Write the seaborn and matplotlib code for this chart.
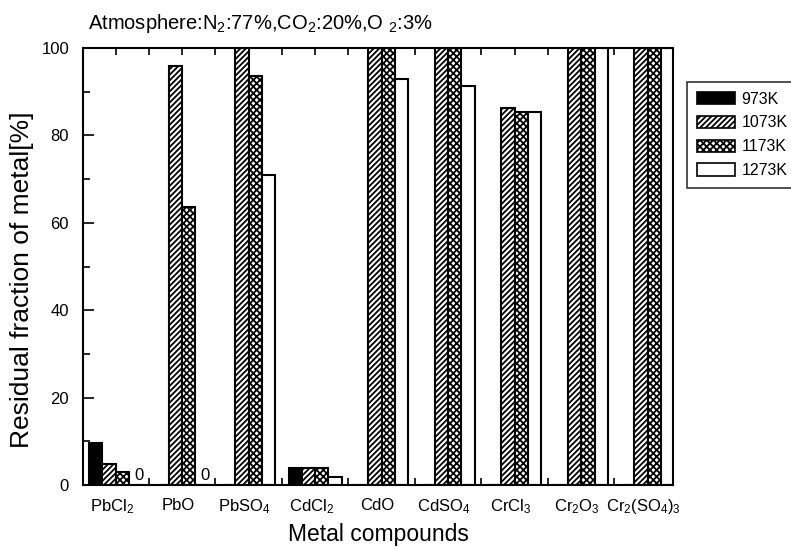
import matplotlib
matplotlib.use("Agg")
import matplotlib.pyplot as plt
from matplotlib.patches import Patch
from matplotlib.ticker import MultipleLocator, FixedLocator
from matplotlib.transforms import ScaledTranslation
import seaborn as sns
import pandas as pd

compounds = ["PbCl$_2$", "PbO", "PbSO$_4$", "CdCl$_2$", "CdO", "CdSO$_4$",
             "CrCl$_3$", "Cr$_2$O$_3$", "Cr$_2$(SO$_4$)$_3$"]
temps = ["973K", "1073K", "1173K", "1273K"]
v973 = [9.6, 0, 0, 4.0, 0, 0, 0, 0, 0]
v1073 = [4.8, 95.9, 100, 4.0, 100, 100, 86.3, 100, 100]
v1173 = [3.0, 63.6, 93.5, 4.0, 100, 100, 85.4, 100, 100]
v1273 = [0, 0, 71.0, 1.9, 93.0, 91.2, 85.4, 100, 100]
zero_labels = [(0, 3), (1, 3)]  # (compound index, temp index) annotated "0"

rows = []
for t, vals in zip(temps, [v973, v1073, v1173, v1273]):
    for c, v in zip(compounds, vals):
        rows.append({"Compound": c, "Temp": t, "Value": v})
df = pd.DataFrame(rows)

sns.set_theme(style="ticks")
plt.rcParams["font.family"] = ["Liberation Sans", "DejaVu Sans"]
plt.rcParams["mathtext.fontset"] = "custom"
plt.rcParams["mathtext.rm"] = "Liberation Sans"
plt.rcParams["mathtext.default"] = "regular"
plt.rcParams["hatch.linewidth"] = 1.3
plt.rcParams["hatch.color"] = "black"
for k in ["text.color", "axes.labelcolor", "xtick.color", "ytick.color",
          "xtick.labelcolor", "ytick.labelcolor"]:
    plt.rcParams[k] = "black"

fig = plt.figure(figsize=(7.91, 5.49), dpi=100)
ax = fig.add_axes([83 / 791, 1 - 485 / 549, 590 / 791, 437 / 549])

sns.barplot(data=df, x="Compound", y="Value", hue="Temp", order=compounds,
            hue_order=temps, width=0.80, gap=0, edgecolor="black",
            linewidth=1.5, legend=False, ax=ax, errorbar=None)

fills = ["black", "white", "white", "white"]
hatches = [None, "//////", "xxxxx", None]
for cont, fc, h in zip(ax.containers, fills, hatches):
    for p in cont:
        p.set_facecolor(fc)
        p.set_edgecolor("black")
        if h:
            p.set_hatch(h)

for ci, ti in zero_labels:
    p = ax.containers[ti][ci]
    ax.text(p.get_x() + p.get_width() / 2 + 0.05, 0.4, "0", ha="center",
            va="bottom", fontsize=12, color="black")

ax.set_xlim(-0.49, 8.38)
ax.set_ylim(0, 100)
ax.yaxis.set_major_locator(MultipleLocator(20))
ax.yaxis.set_minor_locator(MultipleLocator(10))
ax.xaxis.set_minor_locator(FixedLocator([i + 0.5 for i in range(-1, 9)]))
ax.tick_params(axis="both", which="both", direction="in", top=True, right=True,
               width=1.2, color="black", labelcolor="black")
ax.tick_params(axis="y", which="major", length=8, labelsize=12, pad=10)
ax.tick_params(axis="y", which="minor", length=5)
ax.tick_params(axis="x", which="major", length=5, labelsize=12, pad=9)
ax.tick_params(axis="x", which="minor", length=5)
for lab in ax.get_xticklabels():
    lab.set_transform(lab.get_transform() +
                      ScaledTranslation(-4 / 100, 0, fig.dpi_scale_trans))
for s in ax.spines.values():
    s.set_linewidth(1.5)
    s.set_color("black")

ax.set_xlabel("Metal compounds", fontsize=16.5, labelpad=5, color="black")
ax.set_ylabel("Residual fraction of metal[%]", fontsize=19, color="black")
ax.yaxis.set_label_coords(-0.083, 0.469)
ax.set_title("Atmosphere:N$_2$:77%,CO$_2$:20%,O $_2$:3%", fontsize=14.5,
             loc="left", x=0.008, pad=14, color="black")

handles = [Patch(facecolor=fc, edgecolor="black", hatch=h, linewidth=1.2)
           for fc, h in zip(fills, hatches)]
leg = ax.legend(handles, temps, loc="upper left", bbox_to_anchor=(1.0237, 0.922),
                frameon=True, fancybox=False, edgecolor="black", fontsize=11.5,
                handlelength=2.4, handleheight=0.8, borderaxespad=0,
                labelspacing=0.55, handletextpad=0.4, borderpad=0.6,
                labelcolor="black")
leg.get_frame().set_linewidth(1.2)

fig.savefig("out.png", dpi=100)
